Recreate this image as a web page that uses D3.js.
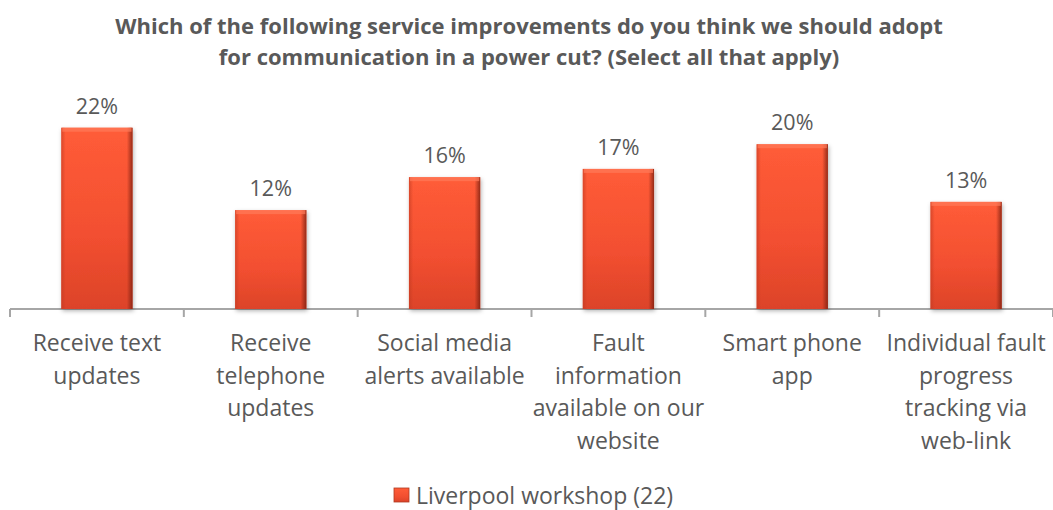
<!DOCTYPE html>
<html>
<head>
<meta charset="utf-8">
<script src="https://cdn.jsdelivr.net/npm/d3@7"></script>
<style>
  body { margin: 0; background: #fff; }
  svg text { font-family: "Open Sans", "Noto Sans", sans-serif; fill: #595959; }
</style>
</head>
<body>
<svg id="chart" width="1053" height="510"></svg>
<script>
const titleLines = [
  "Which of the following service improvements do you think we should adopt",
  "for communication in a power cut? (Select all that apply)"
];
const categories = [
  ["Receive text", "updates"],
  ["Receive", "telephone", "updates"],
  ["Social media", "alerts available"],
  ["Fault", "information", "available on our", "website"],
  ["Smart phone", "app"],
  ["Individual fault", "progress", "tracking via", "web-link"]
];
const values = [0.22, 0.12, 0.16, 0.17, 0.20, 0.13];
const seriesName = "Liverpool workshop (22)";

const svg = d3.select("#chart");
const margin = { left: 10, right: 0, baseline: 309 };

const x = d3.scaleBand()
  .domain(d3.range(categories.length))
  .range([margin.left, 1053 - margin.right])
  .paddingInner(0.59)
  .paddingOuter(0.295);

const y = d3.scaleLinear().domain([0, 0.25]).range([margin.baseline, margin.baseline - 206]);

// gradients for bevelled bar look
const defs = svg.append("defs");
const grad = defs.append("linearGradient").attr("id", "barFill").attr("x1", 0).attr("y1", 0).attr("x2", 0).attr("y2", 1);
grad.append("stop").attr("offset", "0%").attr("stop-color", "#ff5c38");
grad.append("stop").attr("offset", "60%").attr("stop-color", "#f24f30");
grad.append("stop").attr("offset", "100%").attr("stop-color", "#dc4329");
const side = defs.append("linearGradient").attr("id", "barSide").attr("x1", 0).attr("y1", 0).attr("x2", 1).attr("y2", 0);
side.append("stop").attr("offset", "0%").attr("stop-color", "#c03a22").attr("stop-opacity", 0.6);
side.append("stop").attr("offset", "6%").attr("stop-color", "#c03a22").attr("stop-opacity", 0);
side.append("stop").attr("offset", "92%").attr("stop-color", "#7a1f10").attr("stop-opacity", 0);
side.append("stop").attr("offset", "100%").attr("stop-color", "#7a1f10").attr("stop-opacity", 0.8);
const shadow = defs.append("filter").attr("id", "shadow").attr("x", "-20%").attr("y", "-10%").attr("width", "140%").attr("height", "120%");
shadow.append("feDropShadow").attr("dx", 1).attr("dy", 2).attr("stdDeviation", 2).attr("flood-color", "#000").attr("flood-opacity", 0.3);

// title
svg.append("g").selectAll("text")
  .data(titleLines)
  .join("text")
  .attr("x", 529)
  .attr("y", (d, i) => 34 + i * 31)
  .attr("text-anchor", "middle")
  .attr("font-size", 22)
  .attr("font-weight", 700)
  .text((d) => d);

// axis
const axisY = margin.baseline;
const ticks = d3.range(categories.length + 1).map((i) => margin.left + i * x.step());
const axis = svg.append("g");
axis.append("line")
  .attr("x1", margin.left).attr("x2", 1053)
  .attr("y1", axisY).attr("y2", axisY)
  .attr("stroke", "#a6a6a6").attr("stroke-width", 2);
axis.selectAll(".tick")
  .data(ticks)
  .join("line")
  .attr("x1", (d) => d).attr("x2", (d) => d)
  .attr("y1", axisY).attr("y2", axisY + 8)
  .attr("stroke", "#a6a6a6").attr("stroke-width", 2);

// bars
const bars = svg.append("g").selectAll("g")
  .data(values)
  .join("g");

bars.append("rect")
  .attr("x", (d, i) => x(i))
  .attr("y", (d) => y(d))
  .attr("width", x.bandwidth())
  .attr("height", (d) => y(0) - y(d))
  .attr("fill", "url(#barFill)")
  .attr("filter", "url(#shadow)");
bars.append("rect")
  .attr("x", (d, i) => x(i))
  .attr("y", (d) => y(d))
  .attr("width", x.bandwidth())
  .attr("height", (d) => y(0) - y(d))
  .attr("fill", "url(#barSide)");
bars.append("rect")
  .attr("x", (d, i) => x(i) + 1)
  .attr("y", (d) => y(d))
  .attr("width", x.bandwidth() - 2)
  .attr("height", 4)
  .attr("fill", "#ff7a5a")
  .attr("opacity", 0.7);

// value labels
svg.append("g").selectAll("text")
  .data(values)
  .join("text")
  .attr("x", (d, i) => x(i) + x.bandwidth() / 2)
  .attr("y", (d) => y(d) - 14)
  .attr("text-anchor", "middle")
  .attr("font-size", 21.5)
  .text((d) => d3.format(".0%")(d));

// category labels
const catLabels = svg.append("g").selectAll("text")
  .data(categories)
  .join("text")
  .attr("text-anchor", "middle")
  .attr("font-size", 23);
catLabels.selectAll("tspan")
  .data((d, i) => d.map((line) => ({ line, i })))
  .join("tspan")
  .attr("x", (d) => x(d.i) + x.bandwidth() / 2)
  .attr("y", (d, j) => 351 + j * 32.5)
  .text((d) => d.line);

// legend
const legend = svg.append("g").attr("transform", "translate(394,488)");
legend.append("rect").attr("width", 15).attr("height", 14).attr("fill", "url(#barFill)")
  .attr("stroke", "#b03a22").attr("stroke-width", 0.8);
legend.append("text").attr("x", 22).attr("y", 16).attr("font-size", 23).text(seriesName);
</script>
</body>
</html>
